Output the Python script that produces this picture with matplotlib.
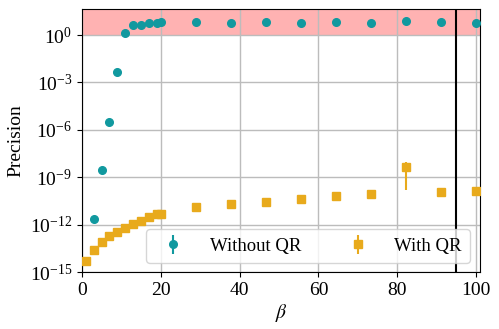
import numpy as np
import matplotlib
matplotlib.use("Agg")
import matplotlib.pyplot as plt

plt.rcParams['font.family'] = ['Liberation Serif', 'DejaVu Serif']
plt.rcParams['mathtext.fontset'] = 'stix'
plt.rcParams['font.size'] = 14

# beta values
beta_no_qr = [3, 5, 7, 9, 11, 13, 15, 17, 19, 20,
              28.9, 37.8, 46.7, 55.6, 64.4, 73.3, 82.2, 91.1, 100]
prec_no_qr = [2.3e-12, 2.9e-9, 3.2e-6, 4.8e-3, 1.27, 4.3, 4.3, 6.0, 6.0, 6.9,
              6.4, 6.0, 6.4, 6.0, 6.4, 6.0, 7.4, 6.9, 6.0]

beta_qr = [1, 3, 5, 7, 9, 11, 13, 15, 17, 19, 20,
           28.9, 37.8, 46.7, 55.6, 64.4, 73.3, 82.2, 91.1, 100]
prec_qr = [5.2e-15, 2.5e-14, 8.3e-14, 1.9e-13, 3.6e-13, 6.4e-13, 1.1e-12,
           1.7e-12, 2.9e-12, 4.7e-12, 4.5e-12,
           1.25e-11, 2.0e-11, 2.8e-11, 4.0e-11, 6.5e-11, 8.3e-11, 4.6e-9,
           1.2e-10, 1.4e-10]
err_qr = [0]*17 + [4.45e-9, 0, 0]

teal = '#11999f'
gold = '#e8aa1c'

fig = plt.figure(figsize=(4.99, 3.29), dpi=100)
ax = fig.add_axes([0.164, 0.173, 0.798, 0.800])

ax.axhspan(1, 1e3, color='red', alpha=0.3, lw=0, zorder=0)
ax.errorbar(beta_no_qr, prec_no_qr, yerr=0*np.array(prec_no_qr), fmt='o',
            color=teal, ms=5.5, label='Without QR', zorder=3)
ax.errorbar(beta_qr, prec_qr, yerr=err_qr, fmt='s',
            color=gold, ms=6, label='With QR', zorder=3)
ax.axvline(95, color='black', lw=1.5, zorder=4)

ax.set_yscale('log')
ax.set_xlim(0, 101)
ax.set_ylim(1e-15, 45)
ax.set_yticks([10.0**k for k in range(-15, 1, 3)])
ax.yaxis.set_minor_locator(matplotlib.ticker.NullLocator())
ax.set_xticks([0, 20, 40, 60, 80, 100])
ax.grid(True, color='#bcbcbc', lw=1, zorder=1)
ax.set_axisbelow(True)

ax.set_xlabel(r'$\beta$', labelpad=2)
ax.set_ylabel('Precision')

ax.legend(ncol=2, loc='lower right', bbox_to_anchor=(0.975, 0.034),
          borderaxespad=0, handletextpad=0.95, columnspacing=2.0,
          framealpha=0.8, borderpad=0.45, fontsize=13.5)

fig.savefig('out.png', dpi=100)
